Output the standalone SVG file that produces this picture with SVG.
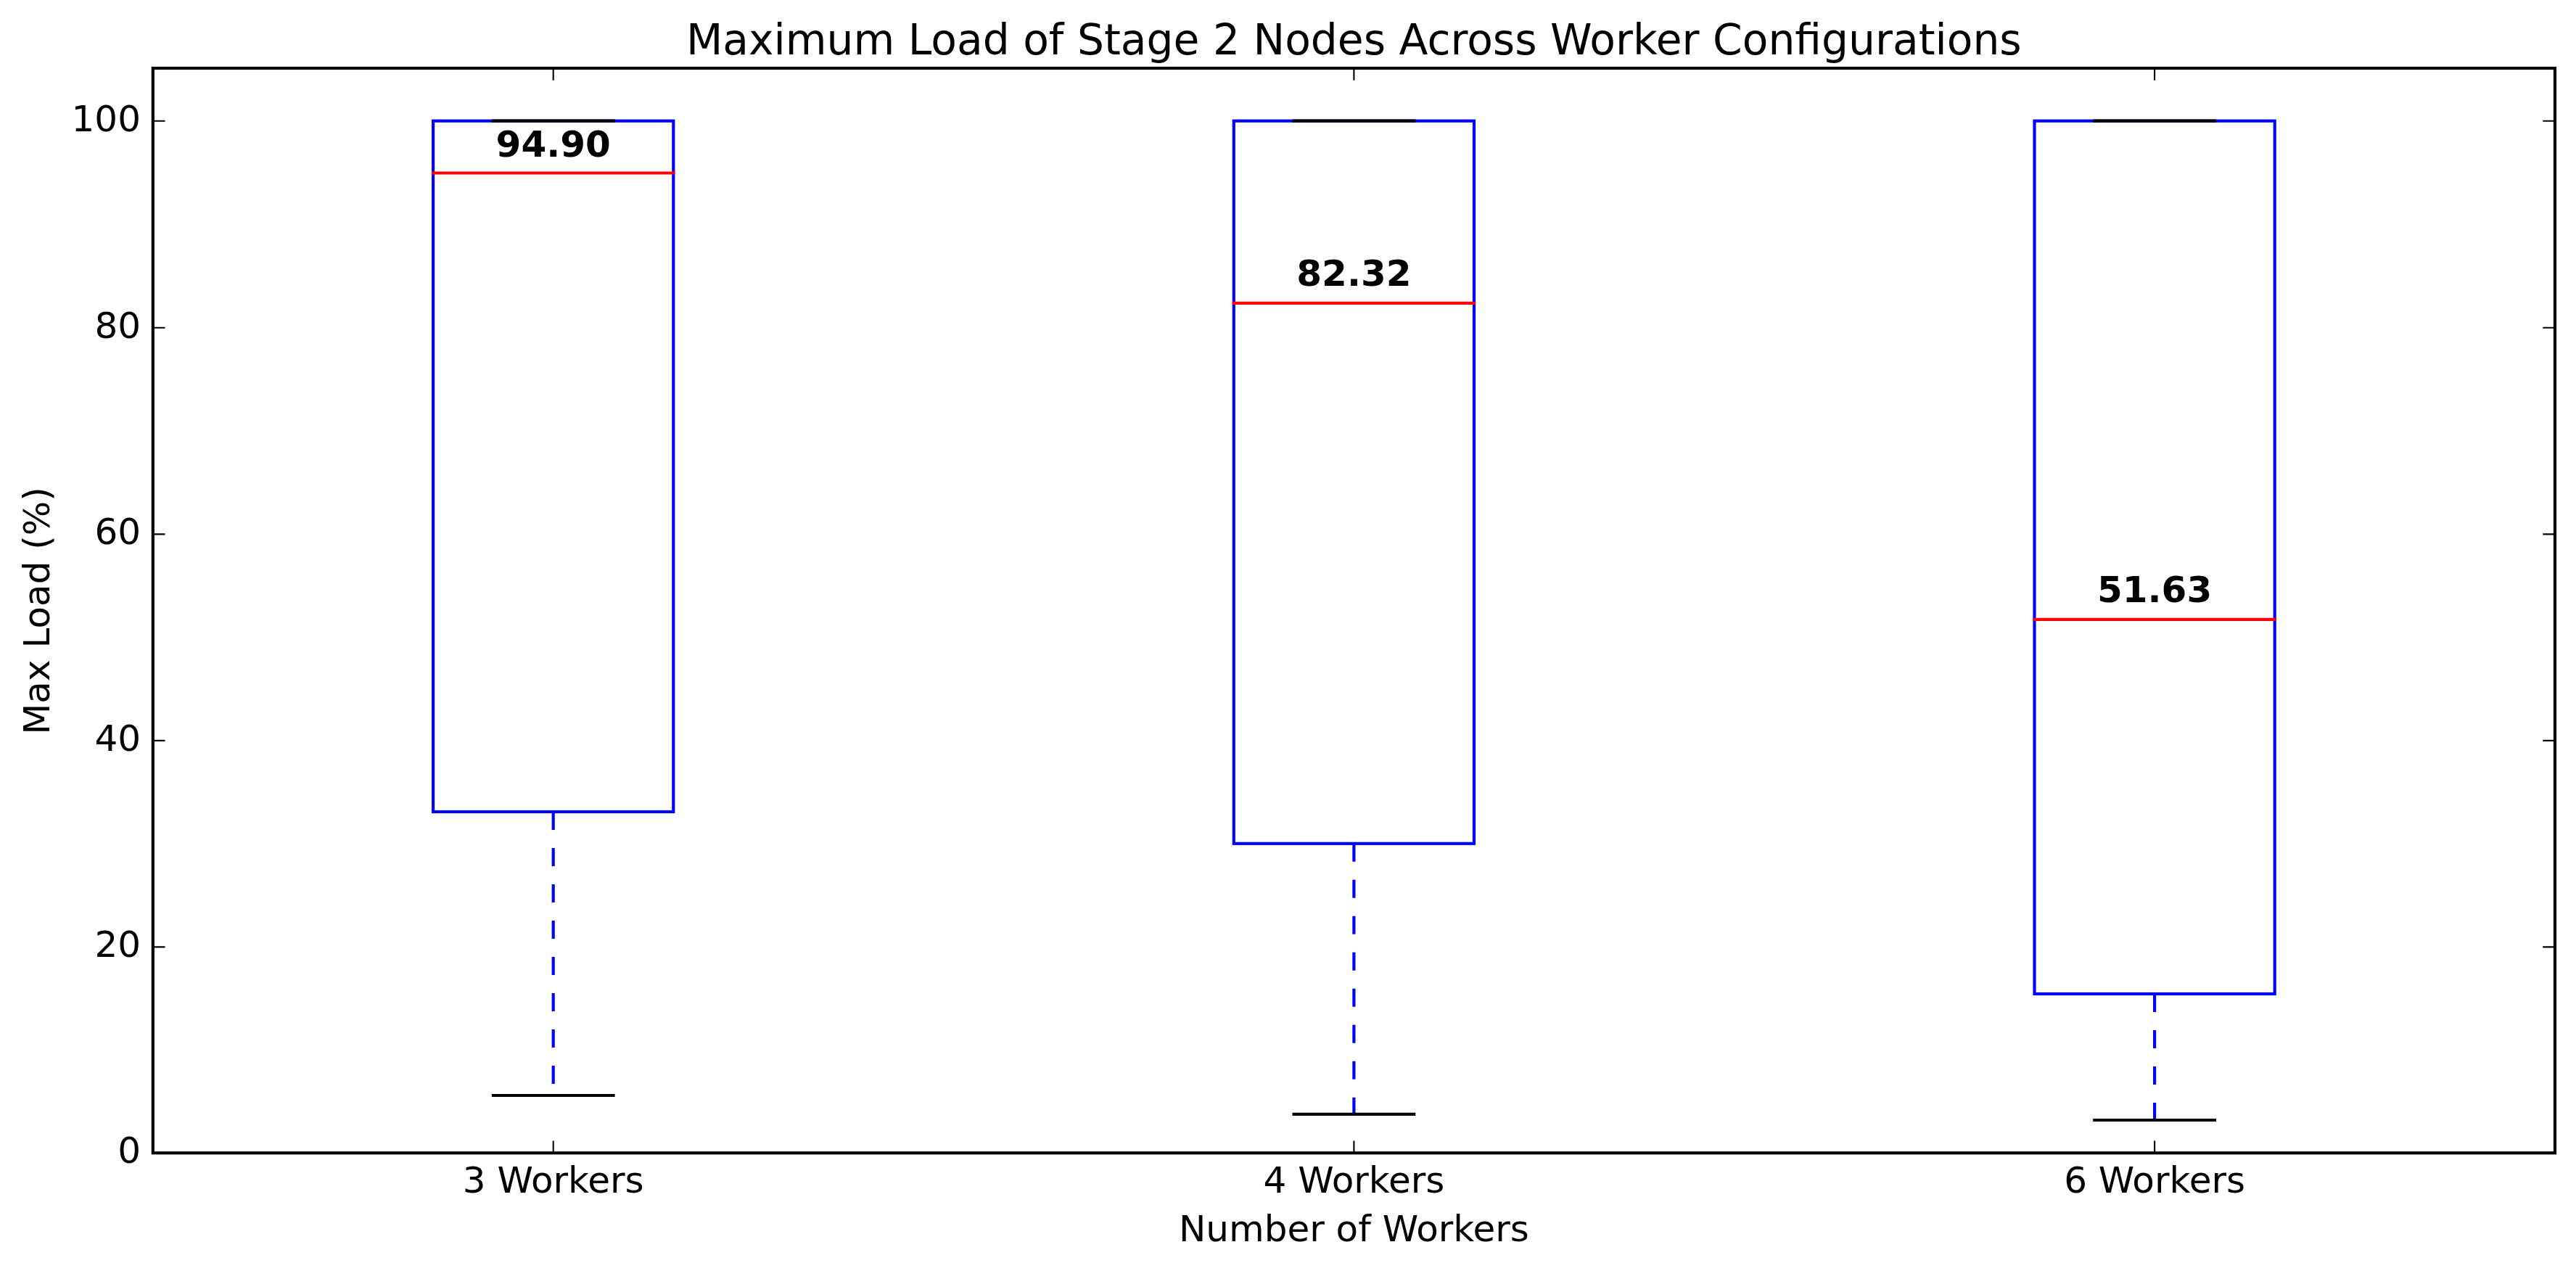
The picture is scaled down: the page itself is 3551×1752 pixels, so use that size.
<svg xmlns="http://www.w3.org/2000/svg" width="3551" height="1752" viewBox="0 0 3551 1752">
<style>
text{font-family:"DejaVu Sans","Liberation Sans",sans-serif;fill:#000}
.tick{font-size:50px}
.ylab{font-size:50px;text-anchor:end}
.xlab{font-size:50px;text-anchor:middle}
.title{font-size:58.3px;text-anchor:middle}
.val{font-size:50px;font-weight:bold;text-anchor:middle}
.frame{fill:none;stroke:#000;stroke-width:4.17}
.tk{stroke:#000;stroke-width:2.08;fill:none}
.box{fill:none;stroke:#0000ff;stroke-width:4.17;stroke-linejoin:miter}
.med{stroke:#ff0000;stroke-width:4.17;stroke-linecap:square}
.cap{stroke:#000;stroke-width:4.17;stroke-linecap:square}
.wh{stroke:#0000ff;stroke-width:4.17;stroke-dasharray:25 25;stroke-linecap:butt}
</style>
<rect width="3551" height="1752" fill="#fff"/>
<g id="axes">
<g id="ticks" class="tk">
<path d="M210.8 1305.4h16.7M210.8 1020.9h16.7M210.8 736.4h16.7M210.8 451.8h16.7M210.8 166.7h16.7"/>
<path d="M3522 1305.4h-16.7M3522 1020.9h-16.7M3522 736.4h-16.7M3522 451.8h-16.7M3522 166.7h-16.7"/>
<path d="M762.7 1589.3v-16.7M1866.4 1589.3v-16.7M2970.1 1589.3v-16.7"/>
<path d="M762.7 94v16.7M1866.4 94v16.7M2970.1 94v16.7"/>
</g>
<g id="ytick-labels">
<text class="ylab" x="194" y="1602.5">0</text>
<text class="ylab" x="194" y="1319">20</text>
<text class="ylab" x="194" y="1034.5">40</text>
<text class="ylab" x="194" y="750">60</text>
<text class="ylab" x="194" y="465.5">80</text>
<text class="ylab" x="194" y="180.7">100</text>
</g>
<g id="xtick-labels">
<text class="xlab" x="762.7" y="1644">3 Workers</text>
<text class="xlab" x="1866.4" y="1644">4 Workers</text>
<text class="xlab" x="2970.1" y="1644">6 Workers</text>
</g>
<text id="xlabel" class="xlab" x="1866.4" y="1711">Number of Workers</text>
<text id="ylabel" class="xlab" transform="translate(68,842) rotate(-90)" x="0" y="0">Max Load (%)</text>
<text id="title" class="title" x="1866.4" y="75">Maximum Load of Stage 2 Nodes Across Worker Configurations</text>
</g>
<g id="box-3workers">
<line class="wh" x1="762.7" y1="1119" x2="762.7" y2="1510"/>
<rect class="box" x="597.1" y="166.7" width="331.2" height="952.3"/>
<line class="med" x1="597.1" y1="238.5" x2="928.3" y2="238.5"/>
<line class="cap" x1="679.9" y1="1510" x2="845.5" y2="1510"/>
<line class="cap" x1="679.9" y1="166.7" x2="845.5" y2="166.7"/>
<text class="val" x="762.7" y="215.7">94.90</text>
</g>
<g id="box-4workers">
<line class="wh" x1="1866.4" y1="1162.8" x2="1866.4" y2="1535.9"/>
<rect class="box" x="1700.8" y="166.7" width="331.2" height="996.1"/>
<line class="med" x1="1700.8" y1="417.8" x2="2032" y2="417.8"/>
<line class="cap" x1="1783.6" y1="1535.9" x2="1949.2" y2="1535.9"/>
<line class="cap" x1="1783.6" y1="166.7" x2="1949.2" y2="166.7"/>
<text class="val" x="1866.4" y="394.3">82.32</text>
</g>
<g id="box-6workers">
<line class="wh" x1="2970.1" y1="1370" x2="2970.1" y2="1544"/>
<rect class="box" x="2804.5" y="166.7" width="331.2" height="1203.3"/>
<line class="med" x1="2804.5" y1="853.8" x2="3135.7" y2="853.8"/>
<line class="cap" x1="2887.3" y1="1544" x2="3052.9" y2="1544"/>
<line class="cap" x1="2887.3" y1="166.7" x2="3052.9" y2="166.7"/>
<text class="val" x="2970.1" y="830">51.63</text>
</g>
<rect id="frame" class="frame" x="210.8" y="94" width="3311.2" height="1495.3"/>
</svg>
